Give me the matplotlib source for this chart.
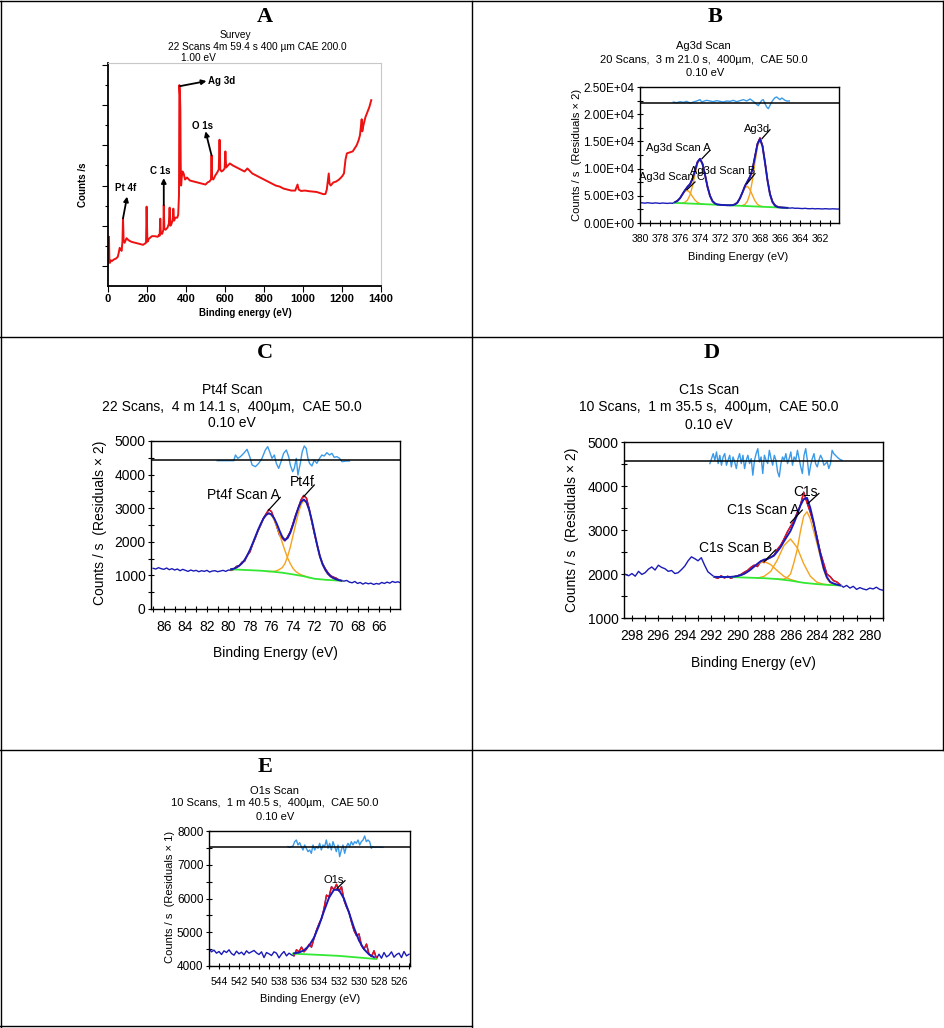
import numpy as np
import matplotlib
matplotlib.use('Agg')
import matplotlib.pyplot as plt
from matplotlib.lines import Line2D
from matplotlib.ticker import MultipleLocator, FuncFormatter

plt.rcParams['font.family'] = ['Liberation Sans', 'DejaVu Sans']

# ---------------- survey (A) ----------------
survey_ev = [0, 3, 5, 7, 10, 15, 20, 30, 40, 50,
             55, 60, 65, 70, 74, 77, 80, 85, 95, 105,
             120, 140, 160, 180, 195, 198, 202, 210, 225, 240,
             255, 262, 265, 268, 271, 278, 284, 286, 289, 295,
             305, 312, 316, 320, 326, 332, 335, 339, 345, 355,
             360, 364, 366, 369, 371, 373, 375, 378, 382, 388,
             395, 405, 420, 440, 460, 480, 500, 510, 520, 528,
             531, 534, 540, 550, 560, 568, 572, 576, 582, 590,
             598, 602, 606, 615, 625, 640, 660, 680, 700, 715,
             725, 740, 760, 780, 800, 820, 840, 860, 880, 900,
             920, 940, 960, 972, 978, 990, 1010, 1030, 1050, 1070,
             1090, 1105, 1115, 1122, 1128, 1132, 1136, 1142, 1155, 1170,
             1185, 1200, 1210, 1218, 1225, 1240, 1255, 1265, 1275, 1285,
             1292, 1298, 1301, 1304, 1310, 1320, 1330, 1340, 1350]
survey_counts = [11000, 12500, 24500, 13000, 11500, 12800, 12400, 13200, 13600, 14500,
                 16500, 19000, 18000, 17500, 22000, 33500, 23000, 21500, 23800, 22800,
                 22000, 21500, 21000, 20500, 21500, 39500, 22000, 23500, 24800, 24800,
                 24500, 25500, 25000, 33500, 26000, 26000, 28000, 40300, 28500, 28000,
                 29000, 31000, 39000, 30000, 31000, 33000, 38500, 32500, 34000, 34000,
                 35500, 45000, 100000, 95000, 88000, 60000, 50000, 54000, 57000, 56000,
                 53000, 54000, 52500, 52000, 51500, 51000, 50500, 51500, 52000, 53000,
                 65000, 53500, 53000, 55000, 56500, 58000, 72800, 58000, 57000, 57500,
                 58500, 67000, 59000, 60000, 61000, 60000, 59000, 58000, 57000, 58500,
                 57500, 56000, 55000, 54000, 53000, 52000, 51000, 50000, 49500, 48500,
                 48000, 47500, 47500, 50500, 48000, 47300, 47500, 47200, 47000, 46800,
                 46200, 45700, 45800, 48000, 53000, 56000, 51000, 50000, 51500, 52000,
                 53000, 54500, 56000, 63000, 66000, 66500, 67000, 68500, 70000, 72500,
                 75000, 80500, 83000, 77000, 80000, 84000, 86500, 89000, 92500]
# (label, text x, text y, arrow tail x, tail y, arrow head x, head y)
survey_marks = [('Ag 3d', 514, 102000, 370, 99500, 505, 102000),
                ('O 1s', 485, 79850, 531, 65000, 500, 77000),
                ('C 1s', 266, 57000, 286, 40300, 286, 53700),
                ('Pt 4f', 91, 48700, 77, 33700, 98, 44500)]

# ---------------- Ag3d (B) ----------------
ag_data = [3750, 3700, 3650, 3720, 3680, 3620, 3700, 3660, 3600, 3680, 3640, 3600, 3660, 3620,
           3800, 4120, 4520, 5330, 6000, 6680, 7100, 8160, 9580, 11230,
           11850, 10820, 8930, 6620, 5040, 3980, 3610, 3370, 3380, 3290,
           3320, 3240, 3290, 3260, 3450, 3760, 4600, 5610, 6850, 7630,
           8530, 9870, 12250, 14600, 15650, 14200, 11180, 7900, 5350, 3950,
           3300, 3020, 2920, 2850, 2830, 2760,
           2740, 2780, 2700, 2720, 2680, 2650, 2700, 2640, 2620, 2660, 2600,
           2640, 2610, 2580, 2630, 2600, 2570, 2610, 2590, 2560, 2600]
ag_env = [3834, 4074, 4570, 5289, 6030, 6621, 7147, 8106, 9624, 11176,
          11778, 10893, 8875, 6673, 4980, 4017, 3570, 3402, 3342, 3312,
          3291, 3271, 3261, 3285, 3413, 3788, 4555, 5657, 6792, 7674,
          8484, 9918, 12191, 14522, 15429, 14113, 11094, 7803, 5272, 3838,
          3177, 2936, 2856, 2821, 2800, 2780]
ag_c = [3834, 4074, 4559, 5240, 5833, 5998, 5581, 4867, 4204, 3780, 3578, 3497]
ag_a = [3688, 3815, 4221, 5143, 6796, 8957, 10912, 11696, 10871, 8875, 6673, 4980, 4017, 3570, 3402]
ag_b = [3285, 3413, 3788, 4538, 5583, 6497, 6739, 6135, 5059, 4061, 3427, 3129, 3018]
ag_main = [3222, 3423, 4042, 5436, 7925, 11176, 14120, 15305, 14080, 11094, 7803, 5272, 3838, 3177, 2936]
ag_bg_ev = [376.5, 365.25]
ag_bg = [3700, 2780]
ag_res_ev = [376.67, 376.33, 376.0, 375.67, 375.33, 375.0, 374.67, 374.33, 374.0, 373.83,
             373.67, 373.33, 373.0, 372.67, 372.33, 372.0, 371.67, 371.33, 371.0, 370.67,
             370.33, 370.0, 369.67, 369.33, 369.0, 368.67, 368.33, 368.17, 368.0, 367.83,
             367.67, 367.5, 367.33, 367.17, 367.0, 366.83, 366.67, 366.5, 366.33, 366.17,
             366.0, 365.83, 365.67, 365.5, 365.33, 365.07]
ag_res = [22241, 22118, 22302, 22180, 22364, 22057, 22241, 22425, 22670, 22241,
          22364, 22547, 22425, 22302, 22486, 22364, 22241, 22425, 22364, 22547,
          22302, 22486, 22670, 22425, 22792, 22364, 21812, 21567, 22057, 22547,
          22670, 21935, 21322, 21016, 21628, 22241, 22670, 23038, 23160, 22915,
          22670, 22976, 22792, 22547, 22425, 22425]
ag_labels = [('Ag3d', 368.3, 17340, 367.8, 15500, 367.0, 17150),
             ('Ag3d Scan A', 376.2, 13850, 373.8, 11830, 373.0, 13360),
             ('Ag3d Scan C', 376.8, 8455, 375.3, 6130, 374.5, 7540),
             ('Ag3d Scan B', 371.7, 9500, 369.3, 7230, 368.5, 9070)]

# ---------------- Pt4f (C) ----------------
pt_data = [1210, 1190, 1230, 1200, 1180, 1220, 1170, 1200, 1160, 1190, 1140, 1180, 1150,
           1120, 1160, 1130, 1150, 1110, 1140, 1120, 1150, 1100, 1130, 1140, 1110,
           1130, 1150, 1120, 1160, 1150, 1180, 1270, 1280, 1390, 1420, 1600, 1700,
           1930, 2120, 2330, 2500, 2700, 2830, 2960, 2900, 2680, 2450, 2200, 2110,
           2030, 2150, 2300, 2540, 2800, 3010, 3250, 3380, 3300, 2990, 2600, 2230,
           1900, 1570, 1350, 1200, 1080, 990, 950, 920, 870, 840, 830, 850,
           800, 780, 820, 760, 790, 740, 780, 750, 770, 730, 760, 740, 790, 760,
           800, 770, 820, 790, 810, 780]
pt_env = [1185, 1200, 1235, 1290, 1360, 1460, 1595, 1760, 1950, 2150,
          2350, 2530, 2690, 2800, 2850, 2810, 2700, 2530, 2330, 2150,
          2050, 2110, 2270, 2500, 2760, 3010, 3190, 3260, 3180, 2960,
          2640, 2270, 1900, 1570, 1330, 1170, 1050, 970, 920, 885, 860, 845]
pt_a = [1185, 1200, 1230, 1280, 1350, 1450, 1590, 1750, 1940, 2140,
        2340, 2520, 2680, 2790, 2850, 2790, 2650, 2450, 2220, 1980,
        1740, 1520, 1350, 1210, 1120, 1060, 1020, 990, 960, 930]
pt_main = [1120, 1115, 1115, 1120, 1140, 1180, 1230, 1350, 1560, 1840,
           2180, 2520, 2850, 3100, 3240, 3160, 2940, 2620, 2260, 1900,
           1560, 1320, 1150, 1030, 960, 910, 870, 850, 840]
pt_bg_ev = [79.75, 79, 78, 77, 76, 75, 74, 73, 72, 71, 70, 69.5]
pt_bg = [1180, 1170, 1155, 1140, 1115, 1080, 1030, 975, 900, 870, 850, 840]
pt_res_ev = [81.05, 79.5, 79.35, 79.13, 78.89, 78.58, 78.27, 78.02, 77.8, 77.49,
             77.19, 76.88, 76.57, 76.35, 76.17, 75.95, 75.73, 75.55, 75.33, 75.11,
             74.87, 74.62, 74.4, 74.25, 74.03, 73.88, 73.69, 73.54, 73.32, 73.14,
             72.95, 72.77, 72.61, 72.46, 72.24, 72.02, 71.78, 71.53, 71.31, 71.1,
             70.85, 70.6, 70.38, 70.17, 69.92, 69.67, 69.45, 68.99, 68.75]
pt_res = [4414, 4414, 4583, 4484, 4533, 4633, 4752, 4533, 4285, 4236,
          4335, 4484, 4732, 4831, 4682, 4484, 4583, 4335, 4186, 4385,
          4633, 4732, 4533, 4285, 4087, 4186, 4484, 3988, 4335, 4682,
          4851, 4781, 4484, 4335, 4256, 4434, 4335, 4484, 4583, 4553,
          4652, 4583, 4633, 4514, 4533, 4484, 4385, 4404, 4404]
pt_labels = [('Pt4f Scan A', 78.64, 3393, 76.26, 2946, 75.18, 3323),
             ('Pt4f', 73.17, 3790, 73.01, 3343, 72.02, 3690)]

# ---------------- C1s (D) ----------------
c_data = [1990, 1960, 2010, 1950, 2060, 1990, 2030, 2110, 2160, 2090,
          2200, 2150, 2120, 2060, 2080, 2010, 2030, 2100, 2180, 2300,
          2390, 2350, 2300, 2370, 2200, 2050, 1990,
          1930, 1900, 1960, 1910, 1950, 1900, 1940, 1960, 1990, 2040,
          2080, 2150, 2200, 2170, 2290, 2260, 2350, 2380, 2420, 2560,
          2650, 2790, 2950, 3080, 3200, 3390, 3560, 3860, 3620, 3400,
          3150, 2850, 2500, 2250, 2000, 1940, 1850, 1820, 1760,
          1700, 1740, 1680, 1720, 1650, 1690, 1660, 1640, 1680, 1660, 1700, 1650, 1630]
c_env = [1935, 1933, 1932, 1931, 1931, 1935, 1942, 1955, 1975, 2005,
         2050, 2105, 2170, 2232, 2290, 2327, 2340, 2378, 2420, 2510,
         2610, 2740, 2860, 2980, 3150, 3340, 3560, 3700, 3730, 3500,
         3180, 2800, 2460, 2140, 1930, 1820, 1785, 1760, 1742]
c_b = [1930, 1950, 2000, 2100, 2225, 2285, 2215, 2075, 1948, 1874, 1830]
c_a = [1907, 1947, 2058, 2318, 2646, 2796, 2603, 2233, 1948, 1812, 1767, 1750]
c_main = [1885, 1880, 1885, 1920, 2000, 2250, 2545, 2970, 3316, 3415,
          3250, 2980, 2700, 2400, 2100, 1900, 1800, 1770, 1750, 1740]
c_bg_ev = [291.8, 290, 288, 287, 286, 285, 284, 283, 282.2]
c_bg = [1935, 1925, 1905, 1885, 1850, 1800, 1770, 1750, 1740]
c_res = [4509, 4623, 4736, 4585, 4774, 4509, 4698, 4472, 4660, 4736,
         4472, 4585, 4698, 4434, 4660, 4547, 4396, 4623, 4736, 4509,
         4698, 4396, 4585, 4698, 4509, 4623, 4245, 4585, 4736, 4849,
         4547, 4660, 4283, 4698, 4585, 4509, 4811, 4623, 4472, 4698,
         4585, 4321, 4208, 4509, 4660, 4585, 4736, 4509, 4623, 4774,
         4472, 4660, 4585, 4811, 4623, 4434, 4283, 4698, 4849, 4585,
         4245, 4472, 4623, 4736, 4509, 4434, 4585, 4698, 4623, 4472,
         4509, 4547, 4396, 4509, 4811, 4736, 4698, 4660, 4623, 4600, 4585]
c_labels = [('C1s', 284.86, 3868, 284.68, 3604, 283.85, 3830),
            ('C1s Scan A', 288.06, 3453, 286.0, 3166, 285.11, 3453),
            ('C1s Scan B', 290.15, 2585, 288.0, 2283, 287.13, 2547)]

# ---------------- O1s (E) ----------------
o_data = [4520, 4420, 4470, 4380, 4430, 4340, 4450, 4400, 4480, 4370,
          4320, 4440, 4360, 4410, 4330, 4450, 4380, 4420, 4460, 4390,
          4340, 4420, 4250, 4400, 4360, 4310, 4420, 4380, 4240, 4350,
          4430, 4300, 4380, 4330,
          4300, 4480, 4420, 4560, 4420, 4500, 4640, 4560, 4820, 5060,
          5250, 5400, 5700, 6100, 6050, 6350, 6260, 6420, 6220, 6350,
          5950, 5750, 5600, 5300, 5050, 4900, 4950, 4600, 4500, 4650,
          4350, 4280, 4450, 4220,
          4350, 4230, 4400, 4270, 4320, 4420, 4260, 4340, 4380, 4250, 4430, 4300, 4350]
o_env = [4375, 4400, 4465, 4600, 4840, 5200, 5627, 6024, 6261,
         6251, 5994, 5580, 5132, 4755, 4498, 4345, 4262]
o_bg_ev = [536.6, 534, 532, 530, 528.3]
o_bg = [4365, 4330, 4300, 4250, 4207]
o_res = [7536, 7516, 7536, 7556, 7684, 7734, 7585, 7654, 7536, 7437,
         7585, 7487, 7388, 7437, 7338, 7585, 7437, 7536, 7487, 7635,
         7437, 7585, 7536, 7734, 7487, 7635, 7437, 7684, 7536, 7388,
         7585, 7240, 7437, 7585, 7338, 7536, 7635, 7536, 7684, 7585,
         7684, 7635, 7734, 7585, 7684, 7734, 7852, 7684, 7734, 7684,
         7487, 7536, 7516, 7516, 7526, 7516, 7516, 7516]
o_labels = [('O1s', 532.5, 6560, 532.2, 6300, 531.4, 6528)]

# ---------------- layout helpers ----------------
W, H = 945, 1028
BLUE = '#1a1ab8'
RED = '#ee1111'
ORANGE = '#f5a31d'
GREEN = '#33e833'
CYAN = '#3a9ae8'

fig = plt.figure(figsize=(W / 100, H / 100), dpi=100)


def box(l, t, r, b):
    return [l / W, 1 - b / H, (r - l) / W, (b - t) / H]


def ftext(x, y, s, **kw):
    fig.text(x / W, 1 - y / H, s, ha='center', va='center', **kw)


def letter(x, y, s):
    ftext(x, y, s, family='Liberation Serif', fontweight='bold', fontsize=16)


def scan_panel(rect, grid, data, fit, env_rng, env, comps, bg_ev, bg,
               res_ev, res, res_level, labels, xlim, ylim, ymaj, ymin, fs, xfs, lfs):
    ax = fig.add_axes(rect)
    ev = np.linspace(grid[0], grid[1], len(data))
    data = np.array(data)
    ax.plot(ev, data, color=BLUE, lw=1.0, zorder=2)
    m = (ev <= fit[0] + 1e-6) & (ev >= fit[1] - 1e-6)
    ax.plot(ev[m], data[m], color=RED, lw=1.0, zorder=3)
    for (a, b), vals in comps:
        ax.plot(np.linspace(a, b, len(vals)), vals, color=ORANGE, lw=1.0, zorder=4)
    ax.plot(bg_ev, bg, color=GREEN, lw=1.3, zorder=4)
    ax.plot(np.linspace(env_rng[0], env_rng[1], len(env)), env, color=BLUE, lw=1.4, zorder=5)
    ax.plot(res_ev, res, color=CYAN, lw=1.0, zorder=3)
    ax.axhline(res_level, color='k', lw=1.1, zorder=6)
    for s, tx, ty, x0, y0, x1, y1 in labels:
        ax.plot([x0, x1], [y0, y1], color='k', lw=0.9, zorder=7)
        ax.text(tx, ty, s, ha='center', va='center', fontsize=lfs, zorder=8)
    ax.set_xlim(*xlim)
    ax.set_ylim(*ylim)
    ax.xaxis.set_major_locator(MultipleLocator(2))
    ax.xaxis.set_minor_locator(MultipleLocator(1))
    ax.yaxis.set_major_locator(MultipleLocator(ymaj))
    ax.yaxis.set_minor_locator(MultipleLocator(ymin))
    ax.tick_params(which='both', direction='inout', length=4, width=0.8,
                   labelsize=fs, pad=2)
    ax.tick_params(axis='x', pad=6, labelsize=xfs)
    for sp in ax.spines.values():
        sp.set_linewidth(1.0)
    return ax


# ---------------- panel A ----------------
axA = fig.add_axes(box(108, 63, 381, 286))
axA.plot(survey_ev, survey_counts, color='#ee1111', lw=1.4)
for s, tx, ty, x0, y0, x1, y1 in survey_marks:
    axA.annotate('', xy=(x1, y1), xytext=(x0, y0),
                 arrowprops=dict(arrowstyle='-|>', color='k', lw=1.3, mutation_scale=7,
                                 shrinkA=0, shrinkB=0))
    ha = 'left' if s == 'Ag 3d' else 'center'
    axA.text(tx, ty, s, ha=ha, va='center', fontsize=7, fontweight='bold')
axA.set_xlim(0, 1400)
axA.set_ylim(0, 111000)
axA.set_xticks(range(0, 1401, 200))
axA.set_xticklabels([str(v) for v in range(0, 1401, 200)], fontweight='bold')
axA.set_yticks(range(10000, 110001, 20000))
axA.set_yticks(range(20000, 100001, 20000), minor=True)
axA.set_yticklabels([])
axA.tick_params(which='major', direction='out', length=4, width=0.8, labelsize=8, pad=2)
axA.tick_params(which='minor', direction='out', length=2.5, width=0.8)
axA.spines['left'].set_linewidth(1.3)
axA.spines['bottom'].set_linewidth(1.3)
axA.spines['top'].set_color('#c8c8c8')
axA.spines['right'].set_color('#c8c8c8')
letter(265, 17, 'A')
ftext(235, 35, 'Survey', fontsize=7.3)
ftext(257, 47, '22 Scans 4m 59.4 s 400 \u00b5m CAE 200.0', fontsize=7.3)
ftext(198, 58, '1.00 eV', fontsize=7.3)
ftext(245, 313, 'Binding energy (eV)', fontsize=7, fontweight='bold')
ftext(83, 185, 'Counts /s', fontsize=7, fontweight='bold', rotation=90)

# ---------------- panel B ----------------
axB = scan_panel(box(640, 87, 839, 223), (380, 360), ag_data, (376.5, 365.25),
                 (376.5, 365.25), ag_env,
                 [((376.5, 373.75), ag_c), ((375.75, 372.25), ag_a),
                  ((370.75, 367.75), ag_b), ((369.75, 366.25), ag_main)],
                 ag_bg_ev, ag_bg, ag_res_ev, ag_res, 22120, ag_labels,
                 (380, 360.1), (0, 25000), 5000, 2500, 8.5, 7.5, 8)
axB.yaxis.set_major_formatter(FuncFormatter(lambda v, p: '%.2E' % v))
letter(715, 17, 'B')
ftext(703, 46, 'Ag3d Scan', fontsize=8)
ftext(704, 60, '20 Scans,  3 m 21.0 s,  400\u00b5m,  CAE 50.0', fontsize=8)
ftext(705, 73, '0.10 eV', fontsize=8)
ftext(738, 257, 'Binding Energy (eV)', fontsize=8)
ftext(577, 155, 'Counts / s  (Residuals \u00d7 2)', fontsize=8, rotation=90)

# ---------------- panel C ----------------
axC = scan_panel(box(151, 441, 400, 609), (87, 64), pt_data, (79.75, 69.5),
                 (79.75, 69.5), pt_env,
                 [((79.75, 72.5), pt_a), ((76.5, 69.5), pt_main)],
                 pt_bg_ev, pt_bg, pt_res_ev, pt_res, 4435, pt_labels,
                 (87.2, 64.05), (0, 5000), 1000, 500, 10, 10, 10)
letter(265, 353, 'C')
ftext(232, 390, 'Pt4f Scan', fontsize=10)
ftext(232, 407, '22 Scans,  4 m 14.1 s,  400\u00b5m,  CAE 50.0', fontsize=10)
ftext(232, 423, '0.10 eV', fontsize=10)
ftext(275, 653, 'Binding Energy (eV)', fontsize=10)
ftext(100, 523, 'Counts / s  (Residuals \u00d7 2)', fontsize=10, rotation=90)

# ---------------- panel D ----------------
axD = scan_panel(box(624, 442, 883, 618), (298.5, 279.0), c_data, (291.75, 282.25),
                 (291.75, 282.25), c_env,
                 [((290.5, 285.5), c_b), ((288.5, 283.0), c_a), ((287.0, 282.25), c_main)],
                 c_bg_ev, c_bg, np.linspace(292.1, 282.1, len(c_res)), c_res, 4560,
                 c_labels, (298.6, 279.0), (1000, 5000), 1000, 500, 10, 10, 10)
letter(712, 353, 'D')
ftext(709, 390, 'C1s Scan', fontsize=10)
ftext(709, 407, '10 Scans,  1 m 35.5 s,  400\u00b5m,  CAE 50.0', fontsize=10)
ftext(709, 425, '0.10 eV', fontsize=10)
ftext(753, 663, 'Binding Energy (eV)', fontsize=10)
ftext(572, 530, 'Counts / s  (Residuals \u00d7 2)', fontsize=10, rotation=90)

# ---------------- panel E ----------------
axE = scan_panel(box(209, 831, 410, 966), (545, 525), o_data, (536.5, 528.25),
                 (536.5, 528.5), o_env, [],
                 o_bg_ev, o_bg, np.linspace(537.1, 527.6, len(o_res)), o_res, 7526,
                 o_labels, (545, 524.9), (4000, 8000), 1000, 500, 8.5, 7.5, 8)
letter(265, 767, 'E')
ftext(275, 791, 'O1s Scan', fontsize=8)
ftext(275, 803, '10 Scans,  1 m 40.5 s,  400\u00b5m,  CAE 50.0', fontsize=8)
ftext(275, 817, '0.10 eV', fontsize=8)
ftext(310, 999, 'Binding Energy (eV)', fontsize=8)
ftext(170, 897, 'Counts / s  (Residuals \u00d7 1)', fontsize=8, rotation=90)

# ---------------- cell borders ----------------
borders = [(0, 1, 944, 1), (0, 337, 944, 337), (0, 750, 944, 750), (0, 1026, 472, 1026),
           (1, 1, 1, 1027), (472, 1, 472, 1027), (943, 1, 943, 750)]
for x0, y0, x1, y1 in borders:
    fig.add_artist(Line2D([x0 / W, x1 / W], [1 - y0 / H, 1 - y1 / H],
                          color='k', lw=1.0, transform=fig.transFigure))

fig.savefig('out.png', dpi=100)
